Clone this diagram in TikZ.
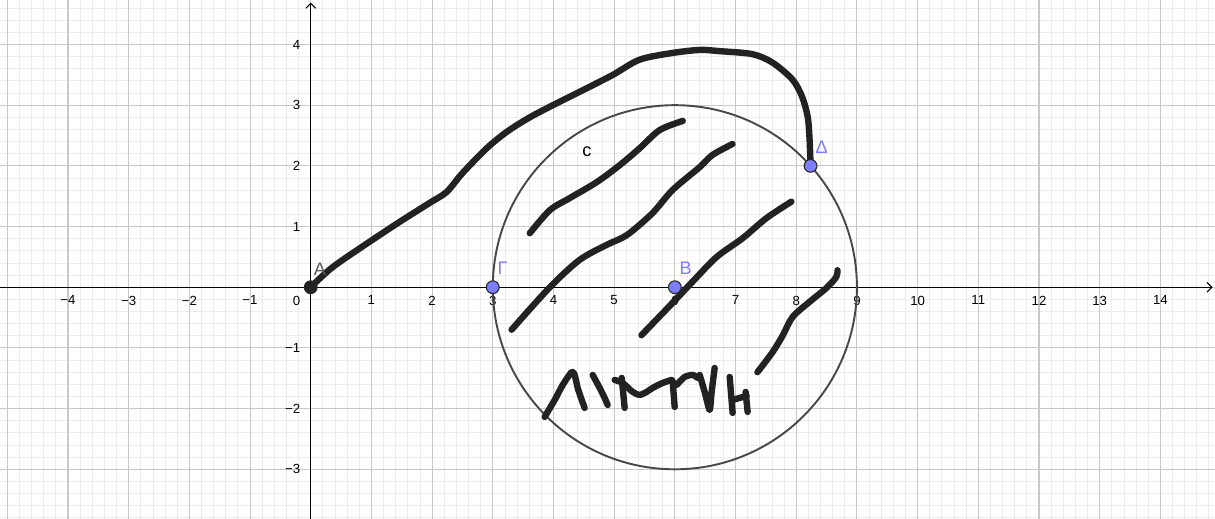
\documentclass[tikz,border=0pt]{standalone}
\usepackage{fontspec}
\setmainfont{Liberation Sans}
\usepackage{tikz}
\usetikzlibrary{arrows.meta, positioning, calc}
\definecolor{cPoint}{RGB}{125,125,255}
\definecolor{cInk}{RGB}{34,34,34}
\definecolor{cCircle}{RGB}{72,72,72}
\definecolor{cMajor}{RGB}{200,200,200}
\definecolor{cMinor}{RGB}{236,236,236}
\tikzset{
    minorgrid/.style={draw=cMinor, line width=0.4pt},
    majorgrid/.style={draw=cMajor, line width=0.5pt},
    axisline/.style={-{Straight Barb[length=0.8mm, width=1.6mm]}, line width=0.5pt, black},
    ticklabel/.style={font=\fontsize{6.2}{7}\selectfont, inner sep=1pt},
    ink/.style={draw=cInk, line width=3pt, line cap=round, line join=round},
    geopoint/.style={circle, fill=cPoint, draw=black!85, line width=0.5pt, minimum size=0.21cm, inner sep=0pt},
    ptlabel/.style={font=\fontsize{8.5}{10}\selectfont, text=cPoint, inner sep=0pt},
}

\begin{document}
\begin{tikzpicture}
    \useasboundingbox (-5.12,-3.817) rectangle (14.90,4.733);
    \fill[white] (-5.12,-3.817) rectangle (14.90,4.733);
    % grid
    \draw[minorgrid, step=0.2] (-5.12,-3.817) grid (14.90,4.733);
    \draw[majorgrid, step=1] (-5.12,-3.817) grid (14.90,4.733);
    % axes
    \draw[axisline] (-5.12,0) -- (14.86,0);
    \draw[axisline] (0,-3.817) -- (0,4.69);
    \foreach \x in {1,...,14} \node[ticklabel, anchor=north] (tx\x) at (\x,-0.1) {\x};
    \foreach \x in {1,...,4} \node[ticklabel, anchor=north] (txm\x) at (-\x,-0.1) {−\x};
    \foreach \y in {1,...,4} \node[ticklabel, anchor=east] (ty\y) at (-0.13,\y) {\y};
    \foreach \y in {1,...,3} \node[ticklabel, anchor=east] (tym\y) at (-0.13,-\y) {−\y};
    \node[ticklabel, anchor=north east] (t0) at (-0.13,-0.1) {0};

    % circle c
    \draw[cCircle, line width=0.9pt] (6,0) circle (3);

    % point positions
    \coordinate (A) at (0,0);
    \coordinate (G) at (3,0);
    \coordinate (B) at (6,0);
    \coordinate (D) at (8.236,2);

    % hand drawn path A to Delta
    \draw[ink] plot[smooth, tension=0.5] coordinates {(A) (0.36,0.33) (0.97,0.75) (1.47,1.08) (1.96,1.39) (2.24,1.57)
        (2.50,1.88) (2.90,2.29) (3.23,2.56) (3.61,2.80) (4.05,3.03) (4.55,3.28) (4.98,3.50) (5.42,3.75)
        (5.96,3.86) (6.41,3.91) (6.74,3.89) (7.28,3.84) (7.61,3.70) (7.94,3.42) (8.10,3.13) (8.19,2.80)
        (8.22,2.43) (D)};

    % hatching
    \draw[ink] plot[smooth, tension=0.5] coordinates {(3.61,0.89) (3.94,1.27) (4.27,1.47) (4.71,1.73) (5.09,2.01) (5.42,2.29) (5.75,2.59) (6.13,2.74)};
    \draw[ink] plot[smooth, tension=0.5] coordinates {(3.31,-0.70) (3.94,0.00) (4.43,0.45) (4.88,0.70) (5.21,0.86) (5.63,1.22) (5.96,1.60) (6.41,1.98) (6.62,2.18) (6.95,2.36)};
    \draw[ink] plot[smooth, tension=0.5] coordinates {(5.45,-0.79) (5.96,-0.26) (6.29,0.09) (6.69,0.50) (7.12,0.81) (7.51,1.14) (7.92,1.41)};
    \draw[ink] plot[smooth, tension=0.5] coordinates {(7.36,-1.40) (7.61,-1.07) (7.78,-0.79) (7.94,-0.49) (8.22,-0.24) (8.50,-0.01) (8.66,0.17) (8.68,0.28)};

    % scribbled word
    \draw[ink] plot[smooth, tension=0.4] coordinates {(3.855,-2.137) (4.02,-1.857) (4.152,-1.61) (4.30,-1.396) (4.349,-1.445) (4.399,-1.659) (4.465,-1.857) (4.514,-1.988)};
    \draw[ink] plot[smooth, tension=0.4] coordinates {(4.646,-1.445) (4.761,-1.659) (4.843,-1.824) (4.893,-1.939)};
    \draw[ink] (5.124,-1.494) -- (5.173,-1.988);
    \draw[ink] plot[smooth, tension=0.4] coordinates {(5.008,-1.527) (5.14,-1.577) (5.305,-1.725) (5.42,-1.774) (5.535,-1.725) (5.634,-1.659) (5.799,-1.577) (5.947,-1.527)};
    \draw[ink] (5.964,-1.544) -- (5.997,-1.972);
    \draw[ink] plot[smooth, tension=0.4] coordinates {(6.03,-1.61) (6.161,-1.478) (6.293,-1.445) (6.376,-1.494)};
    \draw[ink] plot[smooth, tension=0.4] coordinates {(6.409,-1.445) (6.491,-1.725) (6.573,-2.021) (6.606,-1.725) (6.656,-1.33)};
    \draw[ink] (6.903,-1.478) -- (6.952,-2.071);
    \draw[ink] (6.952,-1.857) -- (7.183,-1.791);
    \draw[ink] (7.166,-1.725) -- (7.199,-2.054);

    % points
    \node[geopoint, fill=cInk] (ptA) at (A) {};
    \node[geopoint] (ptG) at (G) {};
    \node[geopoint] (ptB) at (B) {};
    \node[geopoint] (ptD) at (D) {};

    % labels
    \node[ptlabel, text=black!65] (lbA) at (0.15,0.29) {A};
    \node[ptlabel] (lbG) at (3.16,0.31) {Γ};
    \node[ptlabel] (lbB) at (6.18,0.31) {B};
    \node[ptlabel] (lbD) at (8.42,2.31) {Δ};
    \node[ptlabel, text=black] (lbc) at (4.55,2.23) {c};
\end{tikzpicture}
\end{document}
